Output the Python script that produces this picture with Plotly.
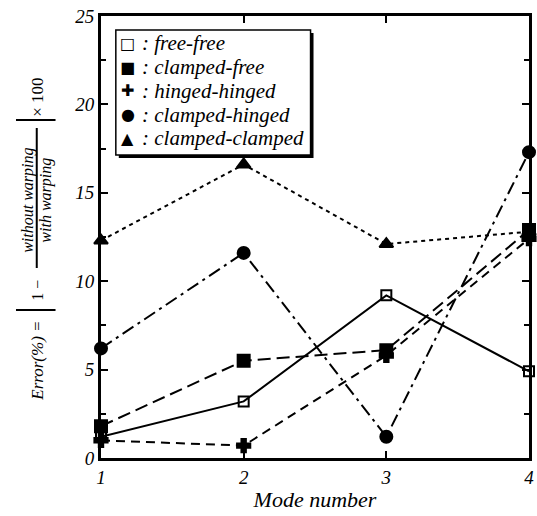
import plotly.graph_objects as go

modes = [1, 2, 3, 4]
free_free = [1.2, 3.2, 9.2, 4.9]
clamped_free = [1.8, 5.5, 6.1, 12.9]
hinged_hinged = [1.0, 0.7, 5.8, 12.4]
clamped_hinged = [6.2, 11.6, 1.2, 17.3]
clamped_clamped = [12.3, 16.6, 12.1, 12.8]

legend_labels = [": free-free", ": clamped-free", ": hinged-hinged",
                 ": clamped-hinged", ": clamped-clamped"]
legend_glyphs = ["□", "■", "✚", "●", "▲"]

series = [
    (free_free, "solid", "square-open", 10),
    (clamped_free, "13px,6px", "square", 12),
    (hinged_hinged, "9px,6px", "cross", 11),
    (clamped_hinged, "13px,5px,3px,5px", "circle", 12),
    (clamped_clamped, "4px,4px", "triangle-up", 12),
]

SERIF = "Liberation Serif"
fig = go.Figure()
for (vals, dash, sym, size), name in zip(series, legend_labels):
    fig.add_trace(go.Scatter(
        x=modes, y=vals, mode="lines+markers", name=name, showlegend=False,
        line=dict(color="black", width=2, dash=dash),
        marker=dict(symbol=sym, size=size, color="black",
                    line=dict(color="black", width=2)),
        cliponaxis=False,
    ))

W, H = 537, 516
L, R, T, B = 101, 3, 16, 58
pw, ph = W - L - R, H - T - B

def px(x):
    return (x - L) / pw

def py(y):
    return (H - B - y) / ph

axis_common = dict(
    showline=True, linecolor="black", linewidth=3, mirror="allticks",
    ticks="inside", tickcolor="black", tickwidth=2, ticklen=7,
    showgrid=False, zeroline=False,
    tickfont=dict(family=SERIF, size=19, color="black", style="italic"),
)
fig.update_xaxes(range=[1, 4], tickvals=modes, **axis_common,
                 title=dict(text="Mode number", standoff=5,
                            font=dict(family=SERIF, size=22, color="black", style="italic")))
fig.update_yaxes(range=[0, 25], dtick=5, **axis_common,
                 minor=dict(dtick=2.5, ticks="inside", ticklen=5, tickcolor="black", tickwidth=2))

annotations = [
    dict(text="Error(%) =", x=px(36), y=py(361), textangle=-90,
         font=dict(family=SERIF, size=17, color="black", style="italic")),
    dict(text="1 −", x=px(36), y=py(290), textangle=-90,
         font=dict(family=SERIF, size=16, color="black")),
    dict(text="without warping", x=px(27), y=py(200), textangle=-90,
         font=dict(family=SERIF, size=16, color="black", style="italic")),
    dict(text="with warping", x=px(45), y=py(200), textangle=-90,
         font=dict(family=SERIF, size=16, color="black", style="italic")),
    dict(text="× 100", x=px(36), y=py(97), textangle=-90,
         font=dict(family=SERIF, size=17, color="black")),
]
for a in annotations:
    a.update(xref="paper", yref="paper", showarrow=False,
             xanchor="center", yanchor="middle")

shapes = [
    dict(type="line", x0=px(15), x1=px(55), y0=py(310), y1=py(310)),
    dict(type="line", x0=px(36), x1=px(36), y0=py(128), y1=py(268)),
    dict(type="line", x0=px(15), x1=px(55), y0=py(120), y1=py(120)),
]
for s in shapes:
    s.update(xref="paper", yref="paper", line=dict(color="black", width=2))

# legend box with shadow
shapes.append(dict(type="rect", xref="paper", yref="paper",
                   x0=px(119), x1=px(316), y0=py(158), y1=py(33),
                   fillcolor="black", line=dict(width=0)))
shapes.append(dict(type="rect", xref="paper", yref="paper",
                   x0=px(116), x1=px(313), y0=py(155), y1=py(30),
                   fillcolor="white", line=dict(color="black", width=1.5)))

row_y = [43, 67, 91, 115, 138]
for glyph, label, ry in zip(legend_glyphs, legend_labels, row_y):
    annotations.append(dict(text=glyph, x=px(128), y=py(ry), xref="paper", yref="paper",
                            showarrow=False, xanchor="center", yanchor="middle",
                            font=dict(family="DejaVu Sans", size=16, color="black")))
    annotations.append(dict(text=label, x=px(140), y=py(ry), xref="paper", yref="paper",
                            showarrow=False, xanchor="left", yanchor="middle",
                            font=dict(family=SERIF, size=21, color="black", style="italic")))

fig.update_layout(
    width=W, height=H,
    margin=dict(l=L, r=R, t=T, b=B),
    plot_bgcolor="white", paper_bgcolor="white",
    annotations=annotations, shapes=shapes,
    showlegend=False,
)
fig.write_html("out.html")
